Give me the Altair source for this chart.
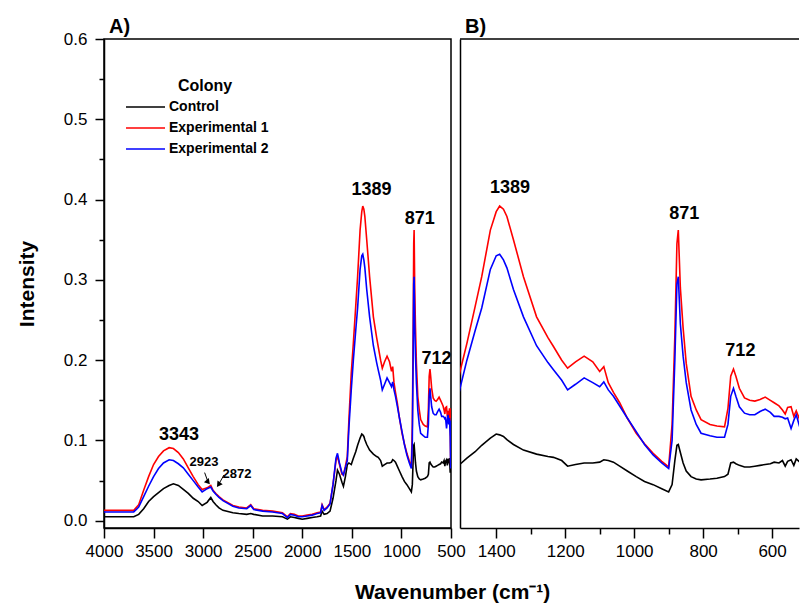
import altair as alt
import pandas as pd

FONT = "Liberation Sans"

# ---------------- data ----------------
wavenumber = [
    4000, 3700, 3650, 3600, 3550, 3500, 3450, 3400, 3343, 3300,
    3250, 3200, 3150, 3100, 3050, 3010, 2960, 2923, 2900, 2872,
    2840, 2800, 2700, 2640, 2560, 2520, 2490, 2400, 2300, 2200,
    2150, 2120, 2080, 2040, 2000, 1950, 1900, 1850, 1815, 1800,
    1780, 1750, 1720, 1690, 1660, 1645, 1625, 1600, 1585, 1565,
    1546, 1530, 1506, 1485, 1461, 1442, 1417, 1400, 1390, 1379,
    1369, 1350, 1321, 1283, 1250, 1234, 1210, 1193, 1170, 1145,
    1120, 1100, 1088, 1075, 1060, 1042, 1020, 994, 970, 945,
    920, 900, 890, 882, 876, 872, 866, 858, 849, 835,
    820, 806, 780, 760, 738, 728, 720, 712, 705, 695,
    680, 665, 650, 635, 620, 605, 594, 580, 570, 562,
    555, 545, 537, 530, 522, 515, 508, 503, 500,
]
control = [
    0.005, 0.005, 0.008, 0.015, 0.024, 0.030, 0.035, 0.040, 0.044, 0.046,
    0.044, 0.039, 0.034, 0.028, 0.024, 0.019, 0.023, 0.029, 0.024, 0.020,
    0.016, 0.013, 0.010, 0.009, 0.008, 0.009, 0.008, 0.006, 0.006, 0.005,
    0.002, 0.005, 0.004, 0.003, 0.002, 0.003, 0.004, 0.005, 0.006, 0.012,
    0.008, 0.009, 0.012, 0.028, 0.050, 0.063, 0.058, 0.048, 0.043, 0.055,
    0.070, 0.072, 0.070, 0.078, 0.086, 0.094, 0.103, 0.108, 0.107, 0.105,
    0.101, 0.095, 0.088, 0.083, 0.080, 0.079, 0.075, 0.068, 0.070, 0.072,
    0.072, 0.073, 0.076, 0.075, 0.073, 0.068, 0.062, 0.055, 0.049, 0.045,
    0.040, 0.036, 0.045, 0.075, 0.094, 0.095, 0.085, 0.072, 0.062, 0.055,
    0.052, 0.051, 0.052, 0.053, 0.055, 0.058, 0.072, 0.073, 0.071, 0.069,
    0.067, 0.067, 0.068, 0.069, 0.070, 0.071, 0.073, 0.072, 0.075, 0.068,
    0.074, 0.076, 0.069, 0.077, 0.074, 0.078, 0.060, 0.075, 0.073,
]
experimental_1 = [
    0.013, 0.013, 0.020, 0.038, 0.055, 0.070, 0.080, 0.087, 0.091, 0.090,
    0.085, 0.077, 0.066, 0.055, 0.045, 0.039, 0.041, 0.044, 0.038, 0.034,
    0.030, 0.026, 0.019, 0.017, 0.016, 0.020, 0.015, 0.013, 0.012, 0.010,
    0.005, 0.009, 0.008, 0.006, 0.006, 0.007, 0.008, 0.010, 0.011, 0.020,
    0.014, 0.017, 0.022, 0.045, 0.075, 0.080, 0.070, 0.058, 0.057, 0.068,
    0.080, 0.125, 0.184, 0.221, 0.267, 0.304, 0.362, 0.385, 0.392, 0.388,
    0.379, 0.350, 0.304, 0.254, 0.228, 0.217, 0.200, 0.190, 0.198, 0.205,
    0.198, 0.186, 0.192, 0.172, 0.160, 0.147, 0.128, 0.109, 0.096, 0.084,
    0.074, 0.067, 0.120, 0.230, 0.345, 0.362, 0.290, 0.240, 0.196, 0.155,
    0.138, 0.126, 0.120, 0.118, 0.117, 0.140, 0.180, 0.189, 0.180, 0.165,
    0.153, 0.150, 0.149, 0.151, 0.154, 0.150, 0.147, 0.143, 0.138, 0.133,
    0.141, 0.142, 0.130, 0.137, 0.128, 0.140, 0.120, 0.070, 0.140,
]
experimental_2 = [
    0.011, 0.011, 0.017, 0.030, 0.043, 0.055, 0.065, 0.072, 0.076, 0.075,
    0.071, 0.066, 0.058, 0.050, 0.042, 0.036, 0.040, 0.042, 0.037, 0.033,
    0.029, 0.025, 0.018, 0.016, 0.015, 0.019, 0.014, 0.012, 0.011, 0.009,
    0.004, 0.008, 0.007, 0.005, 0.005, 0.006, 0.007, 0.009, 0.010, 0.019,
    0.013, 0.016, 0.021, 0.045, 0.078, 0.084, 0.072, 0.060, 0.057, 0.066,
    0.075, 0.115, 0.163, 0.200, 0.237, 0.265, 0.313, 0.330, 0.332, 0.325,
    0.315, 0.288, 0.254, 0.218, 0.197, 0.188, 0.175, 0.163, 0.170, 0.178,
    0.172, 0.167, 0.173, 0.163, 0.155, 0.143, 0.128, 0.111, 0.095, 0.082,
    0.072, 0.065, 0.100, 0.200, 0.295, 0.304, 0.245, 0.205, 0.172, 0.138,
    0.120, 0.109, 0.106, 0.104, 0.104, 0.120, 0.155, 0.165, 0.155, 0.142,
    0.134, 0.132, 0.132, 0.136, 0.139, 0.135, 0.130, 0.130, 0.129, 0.127,
    0.128, 0.115, 0.125, 0.132, 0.120, 0.128, 0.105, 0.065, 0.125,
]
series_names = ["Control", "Experimental 1", "Experimental 2"]
series_colors = ["#000000", "#ff0000", "#0000ff"]

# peak annotations: panel A (big / small) and panel B
ann_a_text = ["3343", "1389", "871", "712"]
ann_a_wn = [3244, 1302, 815, 647]
ann_a_val = [0.1065, 0.412, 0.376, 0.202]
ann_a_small_text = ["2923", "2872"]
ann_a_small_wn = [2991, 2659]
ann_a_small_val = [0.0735, 0.0585]
ann_b_text = ["1389", "871", "712"]
ann_b_wn = [1360, 855, 692]
ann_b_val = [0.415, 0.382, 0.212]
# arrows pointing at the 2923 and 2872 bands (tail -> head)
arrow1_wn, arrow1_val = [2985, 2950], [0.060, 0.048]
arrow2_wn, arrow2_val = [2790, 2845], [0.057, 0.045]

assert len(wavenumber) == len(control) == len(experimental_1) == len(experimental_2)

rows = []
for name, vals in zip(series_names, [control, experimental_1, experimental_2]):
    for w, v in zip(wavenumber, vals):
        rows.append({"wn": w, "val": v, "series": name})
df = pd.DataFrame(rows)

ann_a = pd.DataFrame({"t": ann_a_text, "wn": ann_a_wn, "val": ann_a_val})
ann_a_small = pd.DataFrame({"t": ann_a_small_text, "wn": ann_a_small_wn, "val": ann_a_small_val})
ann_b = pd.DataFrame({"t": ann_b_text, "wn": ann_b_wn, "val": ann_b_val})
arrow1 = pd.DataFrame({"wn": arrow1_wn[:1], "val": arrow1_val[:1],
                       "wn2": arrow1_wn[1:], "val2": arrow1_val[1:]})
arrow2 = pd.DataFrame({"wn": arrow2_wn[:1], "val": arrow2_val[:1],
                       "wn2": arrow2_wn[1:], "val2": arrow2_val[1:]})

# ---------------- scales & axes ----------------
y_scale = alt.Scale(domain=[-0.009, 0.6], nice=False, zero=False)
color = alt.Color("series:N", scale=alt.Scale(domain=series_names, range=series_colors), legend=None)

major_y = "abs(datum.value*10 - round(datum.value*10)) < 0.001"
y_ticks = [round(0.05 * i, 2) for i in range(13)]
y_axis_a = alt.Axis(
    values=y_ticks, title="Intensity", grid=False,
    labelExpr=f"{major_y} ? format(datum.value, '.1f') : ''",
    tickSize={"condition": {"test": major_y, "value": 9}, "value": 5},
    labelPadding=8, titlePadding=26, labelOverlap=False,
)
xa_ticks = list(range(4000, 499, -250))
x_axis_a = alt.Axis(
    values=xa_ticks, title=None, grid=False, format="d", labelFlush=False,
    labelExpr="datum.value % 500 == 0 ? datum.label : ''",
    tickSize={"condition": {"test": "datum.value % 500 == 0", "value": 10}, "value": 6},
    labelPadding=5, labelOverlap=False,
)
xb_ticks = list(range(1400, 599, -100))
x_axis_b = alt.Axis(
    values=xb_ticks, title=None, grid=False, format="d", labelFlush=False,
    labelExpr="datum.value % 200 == 0 ? datum.label : ''",
    tickSize={"condition": {"test": "datum.value % 200 == 0", "value": 10}, "value": 6},
    labelPadding=5, labelOverlap=False,
)


def panel_label(text):
    return alt.Chart(pd.DataFrame({"t": [text]})).mark_text(
        fontSize=20, fontWeight="bold", font=FONT, color="black", align="left", baseline="alphabetic"
    ).encode(x=alt.value(5), y=alt.value(-6), text="t:N")


# ---------------- panel A ----------------
xa = alt.X("wn:Q", scale=alt.Scale(domain=[4000, 500], nice=False, zero=False), axis=x_axis_a)
ya = alt.Y("val:Q", scale=y_scale, axis=y_axis_a)

lines_a = alt.Chart(df).mark_line(strokeWidth=1.6, clip=True).encode(
    x=xa, y=ya, color=color, detail="series:N", order="wn:Q"
)
text_a = alt.Chart(ann_a).mark_text(fontSize=18, fontWeight="bold", font=FONT, color="black").encode(
    x="wn:Q", y="val:Q", text="t:N"
)
text_a_small = alt.Chart(ann_a_small).mark_text(fontSize=13, fontWeight="bold", font=FONT, color="black").encode(
    x="wn:Q", y="val:Q", text="t:N"
)
arrow_tail_1 = alt.Chart(arrow1).mark_rule(color="black", strokeWidth=1).encode(
    x="wn:Q", y="val:Q", x2="wn2:Q", y2="val2:Q")
arrow_tail_2 = alt.Chart(arrow2).mark_rule(color="black", strokeWidth=1).encode(
    x="wn:Q", y="val:Q", x2="wn2:Q", y2="val2:Q")
arrow_head_1 = alt.Chart(arrow1).mark_point(shape="triangle-up", filled=True, size=40, color="black",
                                            opacity=1, angle=140).encode(x="wn2:Q", y="val2:Q")
arrow_head_2 = alt.Chart(arrow2).mark_point(shape="triangle-up", filled=True, size=40, color="black",
                                            opacity=1, angle=215).encode(x="wn2:Q", y="val2:Q")

legend_layers = [
    alt.Chart(pd.DataFrame({"t": ["Colony"]})).mark_text(
        fontSize=16, fontWeight="bold", font=FONT, color="black", align="center", baseline="middle"
    ).encode(x=alt.value(101), y=alt.value(47), text="t:N")
]
for i, (name, col) in enumerate(zip(series_names, series_colors)):
    yy = 68 + 21 * i
    legend_layers.append(
        alt.Chart(pd.DataFrame({"t": [name]})).mark_rule(color=col, strokeWidth=1.6).encode(
            x=alt.value(22), x2=alt.value(61), y=alt.value(yy)
        )
    )
    legend_layers.append(
        alt.Chart(pd.DataFrame({"t": [name]})).mark_text(
            fontSize=14, fontWeight="bold", font=FONT, color="black", align="left", baseline="middle"
        ).encode(x=alt.value(65), y=alt.value(yy), text="t:N")
    )

panel_a = alt.layer(
    lines_a, text_a, text_a_small, arrow_tail_1, arrow_tail_2, arrow_head_1, arrow_head_2,
    panel_label("A)"), *legend_layers
).properties(width=347, height=489)

# ---------------- panel B ----------------
xb = alt.X("wn:Q", scale=alt.Scale(domain=[1505, 522], nice=False, zero=False), axis=x_axis_b)
yb = alt.Y("val:Q", scale=y_scale,
           axis=alt.Axis(labels=False, ticks=False, title=None, grid=False, values=y_ticks))

lines_b = alt.Chart(df).mark_line(strokeWidth=1.6, clip=True).encode(
    x=xb, y=yb, color=color, detail="series:N", order="wn:Q"
)
text_b = alt.Chart(ann_b).mark_text(fontSize=18, fontWeight="bold", font=FONT, color="black").encode(
    x="wn:Q", y="val:Q", text="t:N"
)
top_rule_b = alt.Chart(pd.DataFrame({"t": ["top"]})).mark_rule(color="black", strokeWidth=1.5).encode(
    x=alt.value(0), x2=alt.value(339), y=alt.value(0)
)

panel_b = alt.layer(lines_b, text_b, top_rule_b, panel_label("B)")).properties(
    width=339, height=489,
    view=alt.ViewBackground(stroke=None),
)

chart = alt.hconcat(
    panel_a, panel_b, spacing=9, bounds="flush",
    title=alt.TitleParams("Wavenumber (cm⁻¹)", orient="bottom", anchor="middle",
                          fontSize=21, fontWeight="bold", font=FONT, color="black",
                          offset=22, dx=45),
).properties(
    padding={"left": 15, "top": 16, "right": 0, "bottom": 0},
    background="white",
).configure_view(
    stroke="black", strokeWidth=1.5
).configure_axis(
    domainColor="black", domainWidth=1.5, tickColor="black", tickWidth=1.5,
    labelColor="black", labelFont=FONT, labelFontSize=17,
    titleFont=FONT, titleFontSize=21, titleFontWeight="bold", titleColor="black",
)

chart.save("out.html", embed_options={"renderer": "svg", "actions": False})
